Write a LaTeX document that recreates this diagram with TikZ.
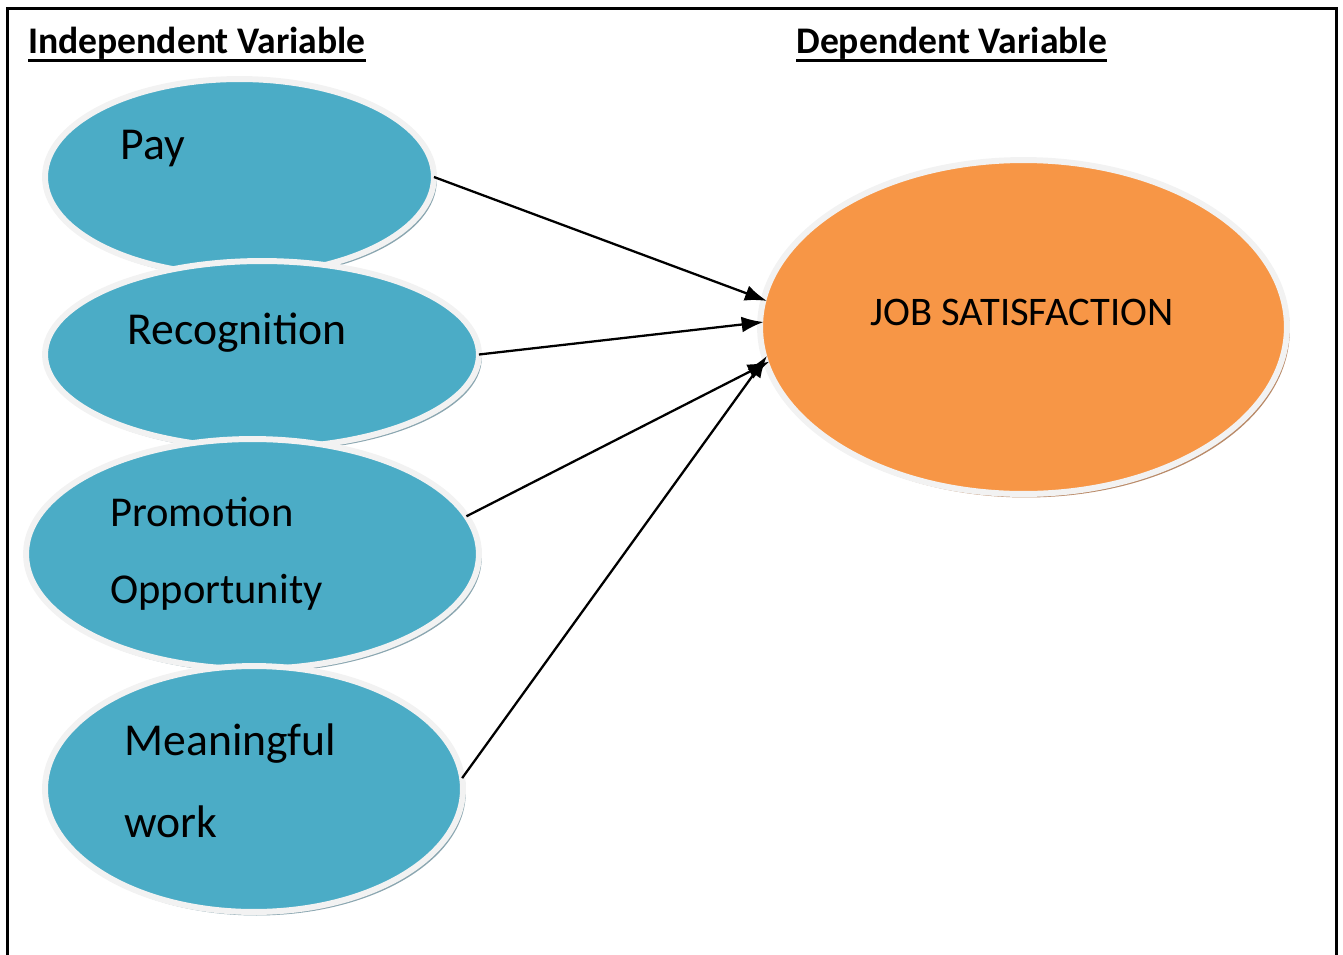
\documentclass[tikz,border=0pt]{standalone}
\usepackage{fontspec}
\setmainfont{Carlito}
\usepackage{tikz}
\usetikzlibrary{shapes.geometric, arrows.meta, shadows}
\definecolor{factorblue}{HTML}{4BACC6}
\definecolor{outcomeorange}{HTML}{F79646}
\definecolor{ringgray}{HTML}{F2F2F2}
\definecolor{blueshade}{HTML}{8AA6B0}
\definecolor{orangeshade}{HTML}{B98A68}
\tikzstyle{factor} = [ellipse, inner sep=0pt, outer sep=0pt, draw=ringgray, line width=3.4pt, fill=factorblue, drop shadow={shadow xshift=1.6pt, shadow yshift=-2pt, fill=blueshade, opacity=1}]
\tikzstyle{outcome} = [ellipse, inner sep=0pt, outer sep=0pt, draw=ringgray, line width=3.4pt, fill=outcomeorange, drop shadow={shadow xshift=1.6pt, shadow yshift=-2pt, fill=orangeshade, opacity=1}]
\tikzstyle{label} = [anchor=base west, inner sep=0pt, font=\fontsize{26}{30}\selectfont]
\tikzstyle{smalllabel} = [label, font=\fontsize{24.2}{28}\selectfont]
\tikzstyle{heading} = [anchor=base west, inner sep=0pt, font=\fontsize{21.4}{25}\selectfont\bfseries]
\tikzstyle{arrow} = [line width=1.3pt, shorten >=-2pt, -{Latex[length=12.5pt, width=9pt]}]

\begin{document}
\begin{tikzpicture}[x=0.02cm, y=-0.02cm]
		\useasboundingbox (0,0) rectangle (1343,954);
		\draw[line width=1.7pt] (7.5,975) -- (7.5,8.5) -- (1336.5,8.5) -- (1336.5,975);
		% headings
		\node (indep) [heading] at (28,53) {Independent Variable};
		\node (dep) [heading] at (796,53) {Dependent Variable};
		\draw[line width=1.7pt] ([yshift=-4.5pt]indep.base west) -- ([yshift=-4.5pt]indep.base east);
		\draw[line width=1.7pt] ([yshift=-4.5pt]dep.base west) -- ([yshift=-4.5pt]dep.base east);
		% independent variables
		\node (pay) [factor, minimum width=7.78cm, minimum height=3.92cm] at (239.5,177) {};
		\node (rec) [factor, minimum width=8.68cm, minimum height=3.74cm] at (262,354.5) {};
		\node (promo) [factor, minimum width=9.06cm, minimum height=4.6cm] at (252.5,554) {};
		\node (mean) [factor, minimum width=8.36cm, minimum height=4.92cm] at (254,789) {};
		\node (payl) [label] at (120,159) {Pay};
		\node (recl) [label] at (127,344) {Recognition};
		\node (promol) [smalllabel] at (110,526) {Promotion};
		\node (oppl) [smalllabel] at (110,603) {Opportunity};
		\node (meanl) [label] at (124,755) {Meaningful};
		\node (workl) [label] at (124,837) {work};
		% dependent variable
		\node (job) [outcome, minimum width=10.54cm, minimum height=6.68cm] at (1023.5,327) {};
		\node (jobl) [anchor=base, inner sep=0pt, font=\fontsize{23.1}{27}\selectfont] at (1022,325) {JOB SATISFACTION};
		\draw [arrow] (pay.east) -- (job.174);
		\draw [arrow] (rec.east) -- (job.179);
		\draw [arrow] (promo.10) -- (job.188);
		\draw [arrow] (mean.3) -- (job.187);
	\end{tikzpicture}
\end{document}
